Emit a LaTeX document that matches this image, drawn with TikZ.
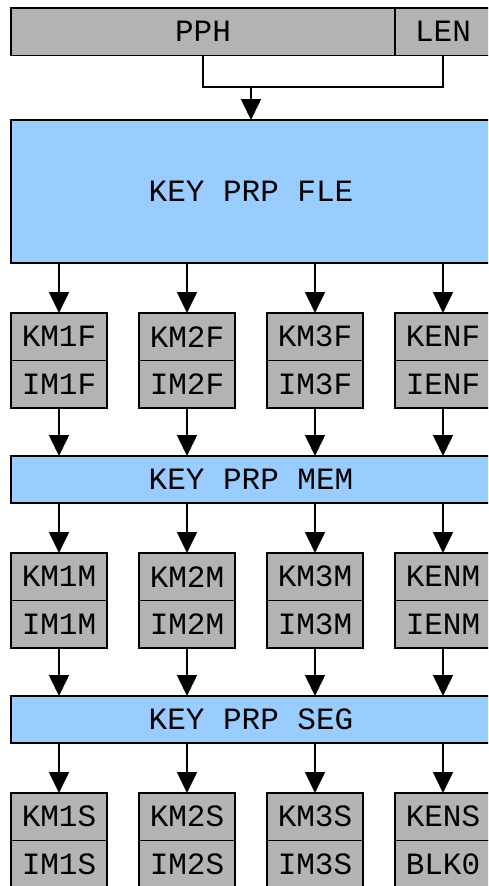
\documentclass[tikz,border=0pt]{standalone}
\usepackage{fontspec}
\setmonofont{Liberation Mono}
\usetikzlibrary{positioning, arrows.meta}

\definecolor{regGray}{RGB}{179,179,179}
\definecolor{prpBlue}{RGB}{153,204,255}

\begin{document}
\begin{tikzpicture}[x=1pt, y=-1pt, line width=1.6pt]
    \tikzstyle{box} = [rectangle,draw=black,inner sep=0pt,outer sep=0pt,
        font=\ttfamily\fontsize{31}{31}\selectfont,text centered,anchor=north west]
    \tikzstyle{reg} = [box,fill=regGray,minimum height=47.5pt]
    \tikzstyle{prp} = [box,fill=prpBlue,minimum width=480pt]
    \tikzstyle{arr} = [-{Triangle[width=20pt,length=21pt]}]

    \useasboundingbox (0,0) rectangle (488,886);
    \clip (0,0) rectangle (488,886);

    % header
    \node (pph) [reg, minimum width=384pt] at (11,8) {PPH};
    \node (len) [reg, minimum width=96pt, right=0pt of pph] {LEN};

    % key preparation stages
    \node (fle) [prp, minimum height=143pt] at (11,120) {KEY PRP FLE};
    \node (mem) [prp, minimum height=47pt] at (11,456) {KEY PRP MEM};
    \node (seg) [prp, minimum height=47pt] at (11,696) {KEY PRP SEG};

    \coordinate (join) at (251,87);
    \draw (pph.south) |- (join) -| (len.south);
    \draw [arr] (join) -- (fle.north);

    % key / iv pairs per column
    \foreach \i/\x/\t/\last in {1/11/M1/IM1S, 2/139/M2/IM2S, 3/267/M3/IM3S, 4/395/EN/BLK0} {
        \node (kf\i) [reg, minimum width=96pt] at (\x,313) {K\t F};
        \node (if\i) [reg, minimum width=96pt, below=0pt of kf\i] {I\t F};
        \node (km\i) [reg, minimum width=96pt] at (\x,553) {K\t M};
        \node (im\i) [reg, minimum width=96pt, below=0pt of km\i] {I\t M};
        \node (ks\i) [reg, minimum width=96pt] at (\x,793) {K\t S};
        \node (is\i) [reg, minimum width=96pt, below=0pt of ks\i] {\last};

        \draw [arr] (kf\i.north |- fle.south) -- (kf\i.north);
        \draw [arr] (if\i.south) -- (if\i.south |- mem.north);
        \draw [arr] (km\i.north |- mem.south) -- (km\i.north);
        \draw [arr] (im\i.south) -- (im\i.south |- seg.north);
        \draw [arr] (ks\i.north |- seg.south) -- (ks\i.north);
    }
\end{tikzpicture}
\end{document}
